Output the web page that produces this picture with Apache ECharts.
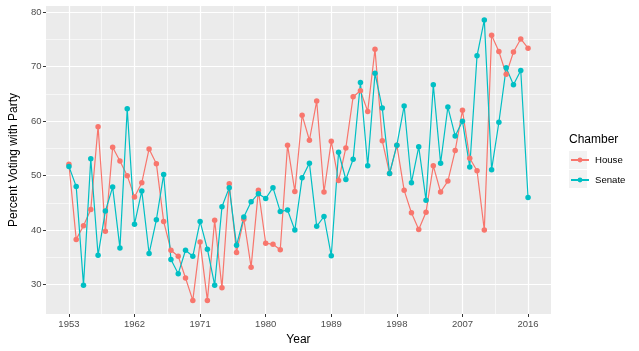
<!DOCTYPE html>
<html>
<head>
<meta charset="utf-8">
<script src="https://cdn.jsdelivr.net/npm/echarts@6/dist/echarts.min.js"></script>
<style>
  html, body { margin: 0; padding: 0; background: #fff; }
  #chart { width: 639px; height: 351px; }
</style>
</head>
<body>
<div id="chart"></div>
<script>
const years = []
for (let y = 1953; y <= 2016; y++) years.push(y)

const house = [
  52.1, 38.3, 40.8, 43.8, 59.0, 39.8, 55.2, 52.7, 50.0, 46.1,
  48.7, 54.9, 52.2, 41.6, 36.3, 35.2, 31.2, 27.1, 37.8, 27.1,
  41.8, 29.4, 48.5, 35.9, 42.0, 33.2, 47.3, 37.6, 37.4, 36.4,
  55.6, 47.1, 61.1, 56.5, 63.7, 47.0, 56.3, 49.1, 55.1, 64.5,
  65.6, 61.8, 73.2, 56.4, 50.4, 55.6, 47.3, 43.2, 40.1, 43.3,
  51.8, 47.0, 49.0, 54.6, 62.0, 53.2, 50.9, 40.0, 75.8, 72.8,
  68.6, 72.7, 75.1, 73.4,
]

const senate = [
  51.7, 48.0, 29.9, 53.1, 35.4, 43.5, 47.9, 36.7, 62.3, 41.1,
  47.2, 35.7, 41.9, 50.2, 34.6, 32.0, 36.3, 35.2, 41.6, 36.5,
  29.9, 44.3, 47.8, 37.2, 42.4, 45.2, 46.7, 45.8, 47.8, 43.4,
  43.7, 40.0, 49.6, 52.3, 40.7, 42.5, 35.3, 54.3, 49.3, 53.0,
  67.1, 51.8, 68.8, 62.4, 50.4, 55.6, 62.8, 48.7, 55.3, 45.5,
  66.7, 52.3, 62.6, 57.3, 60.0, 51.6, 72.0, 78.6, 51.1, 59.8,
  69.8, 66.7, 69.3, 46.0,
]

const xTicks = [1953, 1962, 1971, 1980, 1989, 1998, 2007, 2016]
const xMinor = [1957.5, 1966.5, 1975.5, 1984.5, 1993.5, 2002.5, 2011.5]
const yTicks = [30, 40, 50, 60, 70, 80]
const yMinor = [35, 45, 55, 65, 75]

const font = 'Liberation Sans, Arial, sans-serif'
const chart = echarts.init(document.getElementById('chart'), null, { renderer: 'canvas' })

const hidden = {
  axisLine: { show: false },
  axisTick: { show: false },
  axisLabel: { show: false },
}

chart.setOption({
  animation: false,
  backgroundColor: '#fff',
  grid: {
    left: 37, right: 88, top: 6, bottom: 37,
    show: true, backgroundColor: '#EBEBEB', borderWidth: 0,
  },
  xAxis: [
    {
      type: 'value', min: 1949.85, max: 2019.15,
      name: 'Year', nameLocation: 'middle', nameGap: 18,
      nameTextStyle: { fontFamily: font, fontSize: 12, color: '#000' },
      axisLine: { show: false },
      axisTick: { show: true, length: 3, customValues: xTicks, lineStyle: { color: '#333', width: 1 } },
      axisLabel: {
        customValues: xTicks, margin: 5, formatter: (v) => String(v),
        fontFamily: font, fontSize: 9.5, color: '#4D4D4D',
      },
      splitLine: { show: true, lineStyle: { color: '#fff', width: 1.2 } },
    },
    {
      type: 'value', min: 1949.85, max: 2019.15, position: 'top',
      ...hidden,
      axisTick: { show: false, customValues: xMinor },
      splitLine: { show: true, lineStyle: { color: '#fff', width: 0.6 } },
    },
  ],
  yAxis: [
    {
      type: 'value', min: 24.6, max: 81.15,
      name: 'Percent Voting with Party', nameLocation: 'middle', nameGap: 19,
      nameTextStyle: { fontFamily: font, fontSize: 12, color: '#000' },
      axisLine: { show: false },
      axisTick: { show: true, length: 3, customValues: yTicks, lineStyle: { color: '#333', width: 1 } },
      axisLabel: { customValues: yTicks, margin: 4.5, fontFamily: font, fontSize: 9.5, color: '#4D4D4D' },
      splitLine: { show: true, lineStyle: { color: '#fff', width: 1.2 } },
    },
    {
      type: 'value', min: 24.6, max: 81.15, position: 'right',
      ...hidden,
      axisTick: { show: false, customValues: yMinor },
      splitLine: { show: true, lineStyle: { color: '#fff', width: 0.6 } },
    },
  ],
  legend: {
    orient: 'vertical', left: 570, top: 150, padding: 0,
    itemWidth: 18, itemHeight: 6, itemGap: 0,
    textStyle: { fontFamily: font, fontSize: 9.6, color: '#000', lineHeight: 20, padding: [0, 0, 0, 1] },
    data: ['House', 'Senate'],
  },
  graphic: [
    { type: 'rect', left: 569, top: 151, shape: { width: 18, height: 18 }, style: { fill: '#F2F2F2' }, z: -1 },
    { type: 'rect', left: 569, top: 170, shape: { width: 18, height: 18 }, style: { fill: '#F2F2F2' }, z: -1 },
    { type: 'text', left: 569, top: 134, style: { text: 'Chamber', fontFamily: font, fontSize: 12, fill: '#000' } },
  ],
  series: [
    {
      name: 'House', type: 'line',
      data: years.map((y, i) => [y, house[i]]),
      symbol: 'circle', symbolSize: 5.5,
      lineStyle: { color: '#F8766D', width: 1.2 },
      itemStyle: { color: '#F8766D' },
    },
    {
      name: 'Senate', type: 'line',
      data: years.map((y, i) => [y, senate[i]]),
      symbol: 'circle', symbolSize: 5.5,
      lineStyle: { color: '#00BFC4', width: 1.2 },
      itemStyle: { color: '#00BFC4' },
    },
  ],
})
</script>
</body>
</html>
